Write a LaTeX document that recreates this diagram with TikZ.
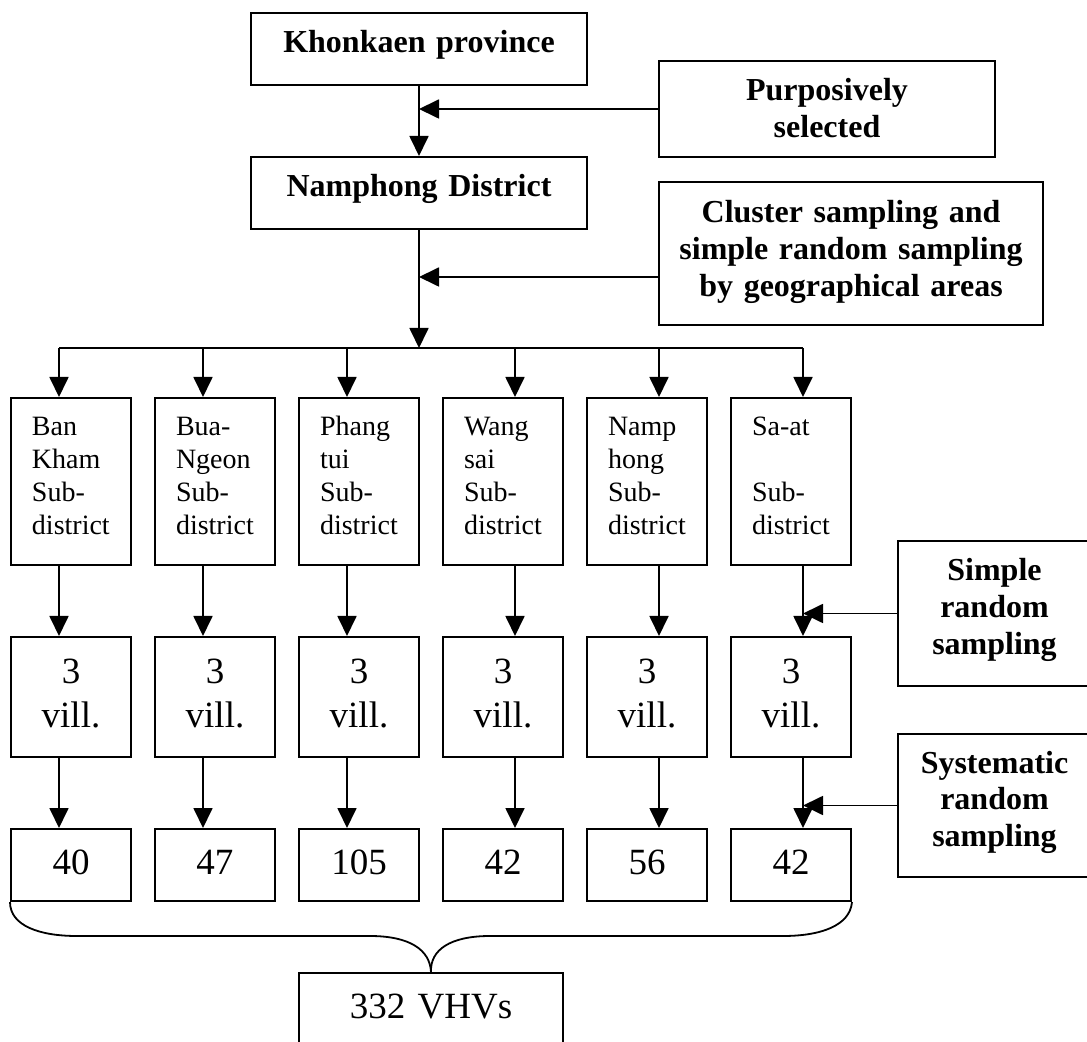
\documentclass[tikz,border=0pt]{standalone}
\usepackage{fontspec}
\setmainfont{Liberation Serif}
\usetikzlibrary{arrows.meta}
\begin{document}
\begin{tikzpicture}[x=0.5pt,y=-0.5pt,
  box/.style={draw, line width=1pt, inner sep=0pt, anchor=north west},
  bold/.style={box, align=center, font=\bfseries\fontsize{16}{18.35}\selectfont},
  subd/.style={box, align=left, text width=39pt, inner xsep=10.5pt,
    text height=19pt, text depth=64.5pt, font=\fontsize{14}{16.35}\selectfont},
  big/.style={box, align=center, text width=60pt, font=\fontsize{18.5}{22}\selectfont},
  link/.style={line width=0.9pt},
  arr/.style={link, -{Triangle[length=10pt,width=9.5pt]}},
]
\useasboundingbox (0,0) rectangle (1087,1042);
\fill[white] (0,0) rectangle (1087,1042);
\clip (0,0) rectangle (1087,1042);

% top of the hierarchy
\node[bold, text width=168pt, text height=20pt, text depth=16pt] (kk) at (250,12) {Khonkaen province};
\node[bold, text width=168pt, text height=20pt, text depth=16pt] (np) at (250,156) {Namphong District};

% sampling methods
\node[bold, text width=168pt, text height=20pt, text depth=28pt] (pur) at (658,60) {Purposively\\selected};
\node[bold, text width=192pt, text height=20.35pt, text depth=51.15pt] (clu) at (658,181)
  {Cluster sampling and\\simple random sampling\\by geographical areas};
\node[bold, text width=96.5pt, text height=20pt, text depth=52.5pt] (srs) at (897,540) {Simple\\random\\sampling};
\node[bold, text width=96.5pt, text height=19.5pt, text depth=52pt] (sys) at (897,733) {Systematic\\random\\sampling};

% sub-districts
\node[subd] (sub0) at (10,397)  {Ban\\Kham\\Sub-\\district};
\node[subd] (sub1) at (154,397) {Bua-\\Ngeon\\Sub-\\district};
\node[subd] (sub2) at (298,397) {Phang\\tui\\Sub-\\district};
\node[subd] (sub3) at (442,397) {Wang\\sai\\Sub-\\district};
\node[subd] (sub4) at (586,397) {Namp\\hong\\Sub-\\district};
\node[subd] (sub5) at (730,397) {Sa-at\\[16.35pt]Sub-\\district};

% villages and samples
\foreach \i/\n in {0/40,1/47,2/105,3/42,4/56,5/42}{
  \node[big, text height=23pt, text depth=37pt] (vil\i) at (10+144*\i,636) {3\\vill.};
  \node[big, text height=22.5pt, text depth=13.5pt] (num\i) at (10+144*\i,828) {\n};
}

% total
\node[big, text width=132pt, text height=22.5pt, text depth=45pt] (tot) at (298,972) {332 VHVs};

% connectors
\coordinate (busy) at (0,348);
\draw[arr] (kk.south) -- (np.north);
\draw[arr] (pur.west) -- (pur.west -| kk.south);
\draw[arr] (np.south) -- (np.south |- busy);
\coordinate (cin) at ([yshift=-11.75pt]clu.west);
\draw[arr] (cin) -- (cin -| np.south);

\foreach \i/\dx in {0/-6pt,1/-6pt,2/-6pt,3/6pt,4/6pt,5/6pt}{
  \coordinate (a\i) at ([xshift=\dx]sub\i.north);
}
\draw[link] (a0 |- busy) -- (a5 |- busy);
\foreach \i in {0,...,5}{
  \draw[arr] (a\i |- busy) -- (a\i);
  \draw[arr] (a\i |- sub\i.south) -- (a\i |- vil\i.north);
  \draw[arr] (a\i |- vil\i.south) -- (a\i |- num\i.north);
}
\draw[arr] (srs.west) -- (srs.west -| a5);
\draw[arr] (sys.west) -- (sys.west -| a5);

% brace gathering the samples
\draw[link] (num0.south west) .. controls (10,926) and (40,936) .. (77,936)
  -- (370,936) .. controls (410,936) and (430,950) .. (tot.north);
\draw[link] (num5.south east) .. controls (850,926) and (820,936) .. (783,936)
  -- (490,936) .. controls (450,936) and (430,950) .. (tot.north);
\end{tikzpicture}
\end{document}
